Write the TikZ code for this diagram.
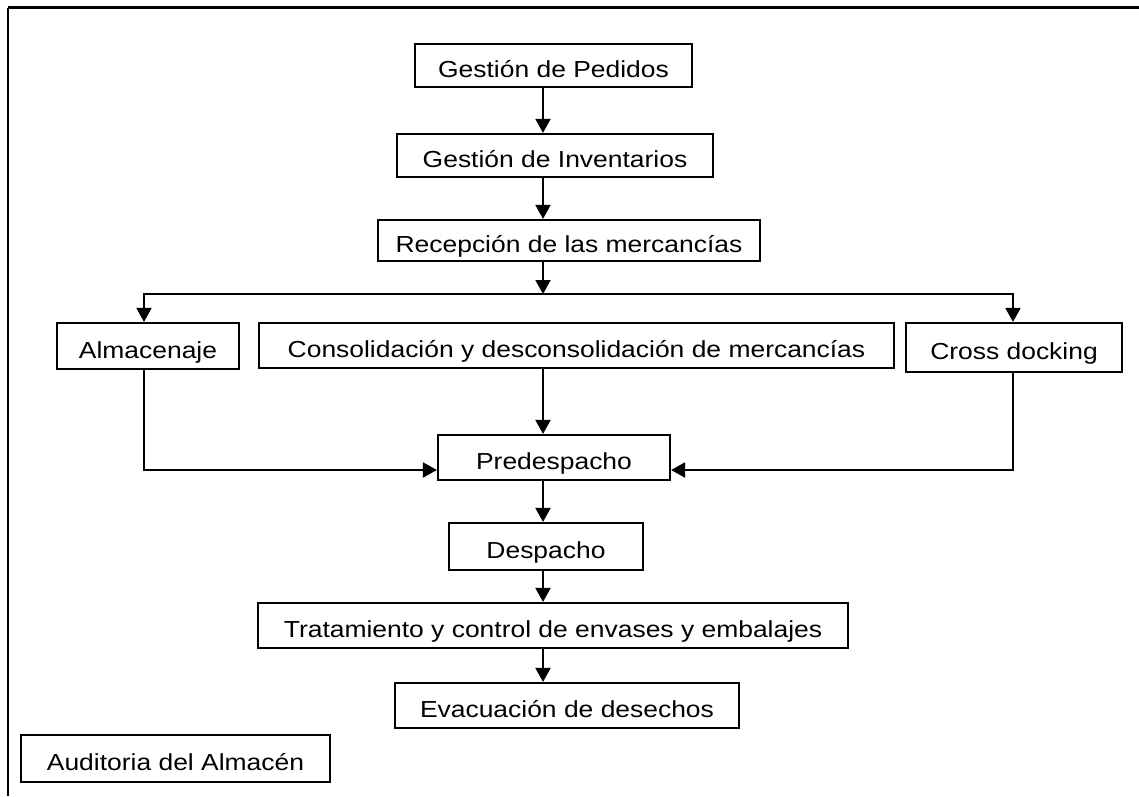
\documentclass[tikz,border=0pt]{standalone}
\usepackage{fontspec}
\setmainfont[FakeStretch=1.14]{Liberation Sans}
\usetikzlibrary{arrows.meta}
\tikzstyle{process}=[rectangle,draw,line width=1.25pt,inner sep=0pt,text height=0.48cm,text depth=0pt,font=\fontsize{13.2}{15}\selectfont]
\tikzstyle{edge} = [draw,line width=1.1pt,-{Triangle[length=0.28cm,width=0.3cm]}]
\tikzstyle{plainedge} = [draw,line width=1.1pt]
\tikzstyle{framev} = [draw,line width=1.4pt]
\tikzstyle{frameh} = [draw,line width=1.7pt]

\begin{document}
\begin{tikzpicture}[x=0.02cm,y=-0.02cm]
    \useasboundingbox (0,0) rectangle (1139,796);

    % marco
    \coordinate (fbl) at (8,796);
    \coordinate (ftl) at (8,7.5);
    \coordinate (ftr) at (1139,7.5);
    \path[framev] (fbl) -- (ftl);
    \path[frameh] (ftl) -- (ftr);

    % procesos
    \foreach \pos/\name/\w/\h/\txt in {
        {(553.5,65.5)/ped/5.54/0.86/Gestión de Pedidos},
        {(555,155.5)/inv/6.32/0.86/Gestión de Inventarios},
        {(569,240.5)/rec/7.64/0.82/Recepción de las mercancías},
        {(148,346)/alm/3.64/0.92/Almacenaje},
        {(576.5,345.5)/con/12.70/0.90/Consolidación y desconsolidación de mercancías},
        {(1014,347.5)/cro/4.32/0.98/Cross docking},
        {(554,457.5)/pre/4.64/0.90/Predespacho},
        {(546,546.5)/des/3.88/0.94/Despacho},
        {(553,625.5)/tra/11.80/0.90/Tratamiento y control de envases y embalajes},
        {(567,705.5)/eva/6.88/0.90/Evacuación de desechos},
        {(175.5,758.5)/aud/6.18/0.94/Auditoria del Almacén}}
        \node[process,minimum width=\w cm,minimum height=\h cm] (\name) at \pos {\txt};

    % flujo principal
    \coordinate (axis) at (543,0);
    \foreach \source/\dest in {ped/inv, inv/rec, con/pre, pre/des, des/tra, tra/eva}
        \path[edge] (\source.south -| axis) -- (\dest.north -| axis);

    % ramas
    \coordinate (branch) at (543,294);
    \coordinate (lft) at (144,294);
    \coordinate (rgt) at (1013,294);
    \coordinate (prein) at (0,470);
    \path[edge] (rec.south -| axis) -- (branch);
    \path[edge] (branch) -| (alm.north -| lft);
    \path[edge] (branch) -| (cro.north -| rgt);
    \path[edge] (alm.south -| lft) |- (pre.west |- prein);
    \path[edge] (cro.south -| rgt) |- (pre.east |- prein);

\end{tikzpicture}
\end{document}
